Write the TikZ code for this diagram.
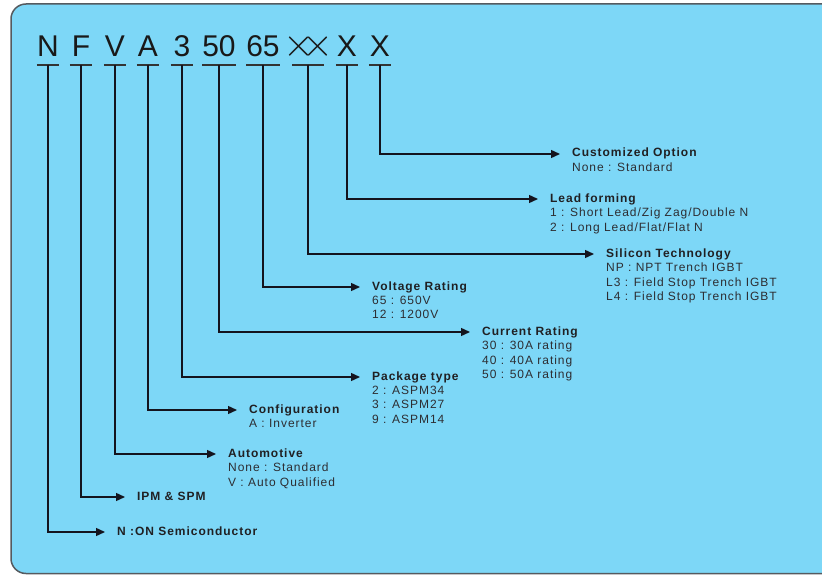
\documentclass[tikz,border=0pt]{standalone}
\usepackage{fontspec}
\setmainfont{Liberation Sans}
\newfontfamily\lblfont[LetterSpace=8]{Liberation Sans}
\usepackage{xcolor}
\usepackage{graphicx}
\usetikzlibrary{arrows.meta,positioning}
\definecolor{skyback}{RGB}{125,215,247}
\definecolor{boxedge}{RGB}{85,90,95}
\definecolor{lbltext}{RGB}{45,45,50}
\definecolor{lineink}{RGB}{20,20,30}
\tikzset{
pncode/.style={font=\fontsize{30}{30}\selectfont,text=black!90,inner xsep=0pt,inner ysep=0pt,text height=21.5pt,text depth=0pt,anchor=south},
pnsingle/.style={pncode,minimum width=22pt},
pndouble/.style={pncode,minimum width=31pt},
pnbar/.style={line width=2.8pt,draw=black!80},
pnarr/.style={-{Triangle[length=9pt,width=8pt]},line width=1.4pt,draw=lineink,shorten >=12pt},
pntitle/.style={font=\lblfont\fontsize{12}{14.5}\selectfont\bfseries,text=lbltext!70!black,anchor=west,inner sep=0pt,text height=9pt,text depth=3pt},
pndesc/.style={font=\lblfont\fontsize{12}{14.5}\selectfont,text=lbltext,align=left,inner sep=0pt,anchor=north west}
}
\begin{document}
\begin{tikzpicture}[x=1pt,y=-1pt]
\useasboundingbox (0,0) rectangle (822,575);
\clip (0,0) rectangle (822,575);
\draw[rounded corners=15pt,fill=skyback,draw=boxedge,line width=1.5pt]
  (11,4) rectangle (850,573.5);
% part number characters
\node[pnsingle] (cN) at (48,57) {N};
\node[pnsingle] (cF) at (81,57) {F};
\node[pnsingle] (cV) at (115,57) {V};
\node[pnsingle] (cA) at (148,57) {A};
\node[pnsingle] (cPkg) at (182,57) {3};
\node[pndouble] (cCur) at (219,57) {50};
\node[pndouble] (cVolt) at (263,57) {65};
\node[pndouble] (cSi) at (308,57)
  {\makebox[31pt][c]{\scalebox{1.6}{$\times$}\kern-12pt\scalebox{1.6}{$\times$}}};
\node[pnsingle] (cLead) at (347,57) {X};
\node[pnsingle] (cOpt) at (380,57) {X};
\draw[pnbar] ([yshift=-8pt]cN.south west) -- ([yshift=-8pt]cN.south east);
\draw[pnbar] ([yshift=-8pt]cF.south west) -- ([yshift=-8pt]cF.south east);
\draw[pnbar] ([yshift=-8pt]cV.south west) -- ([yshift=-8pt]cV.south east);
\draw[pnbar] ([yshift=-8pt]cA.south west) -- ([yshift=-8pt]cA.south east);
\draw[pnbar] ([yshift=-8pt]cPkg.south west) -- ([yshift=-8pt]cPkg.south east);
\draw[pnbar] ([yshift=-8pt]cCur.south west) -- ([yshift=-8pt]cCur.south east);
\draw[pnbar] ([yshift=-8pt]cVolt.south west) -- ([yshift=-8pt]cVolt.south east);
\draw[pnbar] ([yshift=-8pt]cSi.south west) -- ([yshift=-8pt]cSi.south east);
\draw[pnbar] ([yshift=-8pt]cLead.south west) -- ([yshift=-8pt]cLead.south east);
\draw[pnbar] ([yshift=-8pt]cOpt.south west) -- ([yshift=-8pt]cOpt.south east);
% field descriptions
\node[pntitle] (tOpt) at (572,154) {Customized Option};
\node[pndesc] (dOpt) at ([yshift=-2.5pt]tOpt.south west) {None : Standard};
\node[pntitle] (tLead) at (550,199) {Lead forming};
\node[pndesc] (dLead) at ([yshift=-2.5pt]tLead.south west)
  {1 : Short Lead/Zig Zag/Double N\\2 : Long Lead/Flat/Flat N};
\node[pntitle] (tSi) at (606,254) {Silicon Technology};
\node[pndesc] (dSi) at ([yshift=-2.5pt]tSi.south west)
  {NP : NPT Trench IGBT\\L3 : Field Stop Trench IGBT\\L4 : Field Stop Trench IGBT};
\node[pntitle] (tVolt) at (372,287) {Voltage Rating};
\node[pndesc] (dVolt) at ([yshift=-2.5pt]tVolt.south west) {65 : 650V\\12 : 1200V};
\node[pntitle] (tCur) at (482,332) {Current Rating};
\node[pndesc] (dCur) at ([yshift=-2.5pt]tCur.south west)
  {30 : 30A rating\\40 : 40A rating\\50 : 50A rating};
\node[pntitle] (tPkg) at (372,377) {Package type};
\node[pndesc] (dPkg) at ([yshift=-2.5pt]tPkg.south west)
  {2 : ASPM34\\3 : ASPM27\\9 : ASPM14};
\node[pntitle] (tA) at (249,410) {Configuration};
\node[pndesc] (dA) at ([yshift=-2.5pt]tA.south west) {A : Inverter};
\node[pntitle] (tV) at (228,454) {Automotive};
\node[pndesc] (dV) at ([yshift=-2.5pt]tV.south west) {None : Standard\\V : Auto Qualified};
\node[pntitle] (tF) at (137,497) {IPM \& SPM};
\node[pntitle] (tN) at (117,532) {N :ON Semiconductor};
% leaders
\draw[pnarr] ([yshift=-8pt]cN.south) |- (tN);
\draw[pnarr] ([yshift=-8pt]cF.south) |- (tF);
\draw[pnarr] ([yshift=-8pt]cV.south) |- (tV);
\draw[pnarr] ([yshift=-8pt]cA.south) |- (tA);
\draw[pnarr] ([yshift=-8pt]cPkg.south) |- (tPkg);
\draw[pnarr] ([yshift=-8pt]cCur.south) |- (tCur);
\draw[pnarr] ([yshift=-8pt]cVolt.south) |- (tVolt);
\draw[pnarr] ([yshift=-8pt]cSi.south) |- (tSi);
\draw[pnarr] ([yshift=-8pt]cLead.south) |- (tLead);
\draw[pnarr] ([yshift=-8pt]cOpt.south) |- (tOpt);
\end{tikzpicture}
\end{document}
